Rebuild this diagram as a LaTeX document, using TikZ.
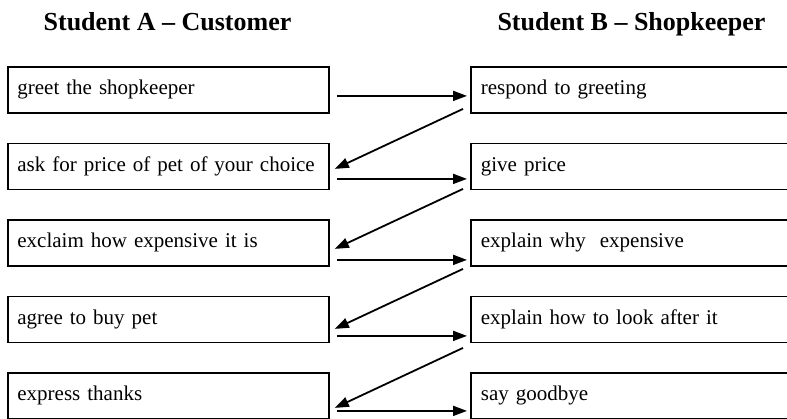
\documentclass[tikz,border=0pt]{standalone}
\usepackage{fontspec}
\setmainfont{Liberation Serif}
\usetikzlibrary{arrows.meta}

\begin{document}
\begin{tikzpicture}[x=0.5pt,y=-0.5pt,
    task/.style={draw,line width=0.9pt,anchor=north west,align=left,
      inner xsep=4.75pt,inner ysep=0pt,minimum height=23pt,font=\fontsize{10.5}{13}\selectfont},
    flow/.style={-{Triangle[length=7pt,width=5pt]},line width=0.9pt},
    role/.style={anchor=base,font=\fontsize{13}{15}\selectfont\bfseries}]
  \useasboundingbox (0,0) rectangle (787,418);
  \node[role] (hA) at (167.5,30) {Student A -- Customer};
  \node[role] (hB) at (631.5,30) {Student B -- Shopkeeper};
  \foreach \i/\txt in {1/{greet the shopkeeper},2/{ask for price of pet of your choice},
      3/{exclaim how expensive it is},4/{agree to buy pet},5/{express thanks}}
    \node[task,text width=151pt] (a\i) at (7,{66+76.5*(\i-1)}) {\txt};
  \foreach \i/\txt in {1/{respond to greeting},2/{give price},3/{explain why\ \ expensive},
      4/{explain how to look after it},5/{say goodbye}}
    \node[task,text width=175pt,inner xsep=5pt] (b\i) at (470,{66+76.5*(\i-1)}) {\txt};
  \foreach \i/\dy in {1/3pt,2/6.25pt,3/8.5pt,4/8.25pt,5/7.5pt}
    \draw[flow] ([xshift=3.5pt,yshift=-\dy]a\i.east) -- ([xshift=-1.5pt,yshift=-\dy]b\i.west);
  \foreach \i/\j/\ds/\dt in {1/2/9.5pt/1.25pt,2/3/11.25pt/3pt,3/4/13pt/4.75pt,4/5/14.25pt/6pt}
    \draw[flow] ([xshift=-3.5pt,yshift=-\ds]b\i.west) -- ([xshift=2.5pt,yshift=-\dt]a\j.east);
\end{tikzpicture}
\end{document}
